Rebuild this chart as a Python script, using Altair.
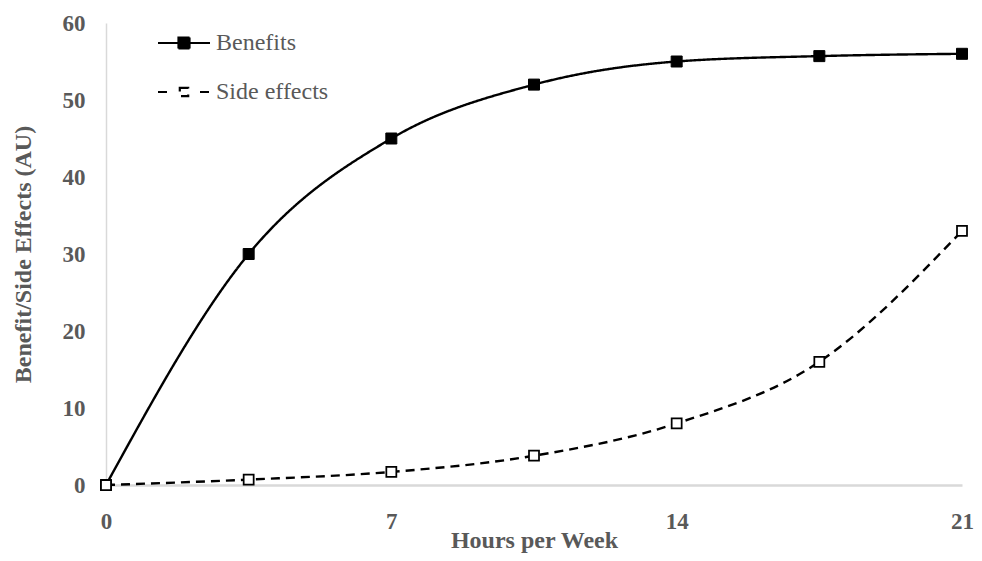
import altair as alt
import pandas as pd

hours = [0, 3.5, 7, 10.5, 14, 17.5, 21]
benefits = [0, 30, 45, 52, 55, 55.7, 56]
side_effects = [0, 0.7, 1.7, 3.8, 8, 16, 33]
series_names = ["Benefits", "Side effects"]
x_ticks = [0, 7, 14, 21]
y_ticks = [0, 10, 20, 30, 40, 50, 60]

df = pd.DataFrame({
    "hours": hours + hours,
    "value": benefits + side_effects,
    "series": [series_names[0]] * len(hours) + [series_names[1]] * len(hours),
})

FONT = "Liberation Serif"
GRAY = "#595959"
AXIS_GRAY = "#d9d9d9"

x = alt.X("hours:Q",
          scale=alt.Scale(domain=[0, 21], nice=False, zero=False),
          axis=alt.Axis(values=x_ticks, title="Hours per Week", grid=False, ticks=False, tickSize=0,
                        domainColor=AXIS_GRAY, domainWidth=2.5, labelFlush=False,
                        labelFont=FONT, labelFontSize=23, labelFontWeight="bold", labelColor=GRAY,
                        labelPadding=25, titleFont=FONT, titleFontSize=24, titleFontWeight="bold",
                        titleColor=GRAY, titleBaseline="alphabetic", titleY=62))
y = alt.Y("value:Q",
          scale=alt.Scale(domain=[0, 60], nice=False),
          axis=alt.Axis(values=y_ticks, title="Benefit/Side Effects (AU)", grid=False, ticks=False, tickSize=0,
                        domainColor=AXIS_GRAY, domainWidth=1.5,
                        labelFont=FONT, labelFontSize=23, labelFontWeight="bold", labelColor=GRAY,
                        labelPadding=21, titleFont=FONT, titleFontSize=24, titleFontWeight="bold",
                        titleColor=GRAY, titlePadding=27))

base = alt.Chart(df)

lines = base.mark_line(color="black", strokeWidth=2.4, interpolate="monotone").encode(
    x=x, y=y, detail="series:N",
    strokeDash=alt.StrokeDash("series:N", scale=alt.Scale(domain=series_names, range=[[1, 0], [9, 6]]), legend=None),
)

pts_b = base.transform_filter(alt.datum.series == series_names[0]).mark_square(
    size=121, filled=True, fill="black", stroke="black", strokeWidth=1, opacity=1).encode(x=x, y=y)
pts_s = base.transform_filter(alt.datum.series == series_names[1]).mark_square(
    size=100, filled=True, fill="white", stroke="black", strokeWidth=1.75, opacity=1).encode(x=x, y=y)

path_b = "M-2.6,0H2.6M-0.55,-0.55H0.55V0.55H-0.55Z"
path_s = "M-2.6,0H-1.6M1.6,0H2.6M-0.42,-0.42H0.42V0.42H-0.42Z"

legend = alt.Legend(title=None, orient="none", legendX=66, legendY=8, symbolSize=400,
                    symbolStrokeWidth=2.2, symbolStrokeColor="black", symbolOpacity=1,
                    labelFont=FONT, labelFontSize=24, labelColor=GRAY, labelOffset=20,
                    rowPadding=25, padding=0)

leg = base.mark_point(strokeWidth=2.2, opacity=0).encode(
    x=x, y=y,
    shape=alt.Shape("series:N", scale=alt.Scale(domain=series_names, range=[path_b, path_s]), legend=legend),
    fill=alt.Fill("series:N", scale=alt.Scale(domain=series_names, range=["black", "white"]), legend=legend),
    stroke=alt.Stroke("series:N", scale=alt.Scale(domain=series_names, range=["black", "black"]), legend=legend),
)

chart = alt.layer(leg, lines, pts_b, pts_s).properties(
    width=856, height=462,
    autosize=alt.AutoSizeParams(type="none"),
    padding={"left": 98, "top": 15, "right": 12, "bottom": 68},
    background="white",
).configure_view(stroke=None)

chart.save("out.html", embed_options={"renderer": "svg", "actions": False})
